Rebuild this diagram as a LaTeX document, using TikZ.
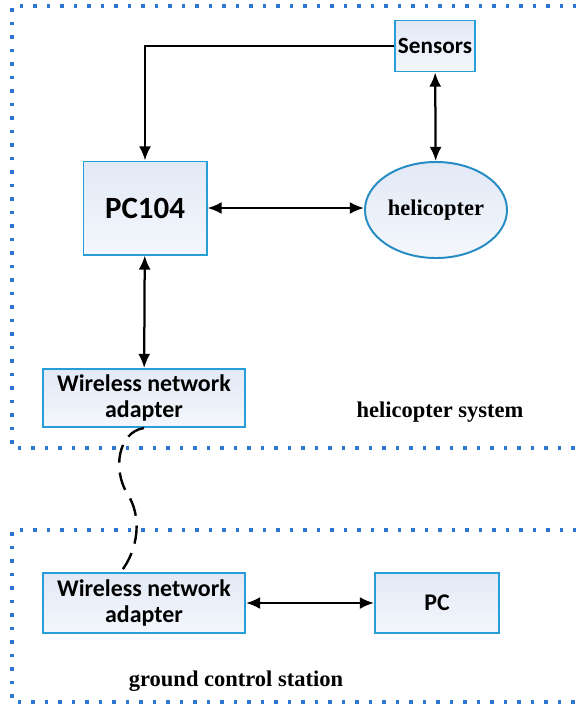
\documentclass[tikz,border=0pt]{standalone}
\usepackage{fontspec}
\setmainfont{Liberation Serif}
\newfontfamily\boxfont{Carlito}
\usetikzlibrary{positioning,shapes.geometric,arrows.meta}

\definecolor{boxline}{RGB}{40,158,216}
\definecolor{ellline}{RGB}{38,140,196}
\definecolor{dotline}{RGB}{44,120,208}
\definecolor{filltop}{RGB}{226,233,246}
\definecolor{fillbot}{RGB}{244,247,252}

\tikzset{
  block/.style={rectangle, draw=boxline, line width=1.4pt, top color=filltop, bottom color=fillbot,
    font=\boxfont\bfseries\fontsize{17}{19}\selectfont, align=center, inner sep=0pt},
  region/.style={draw=dotline, line width=2.2pt, dash pattern=on 2.2pt off 7.4pt},
  link/.style={line width=1.6pt, {Latex[length=10pt,width=8.5pt]}-{Latex[length=10pt,width=8.5pt]}},
  caption/.style={font=\bfseries\fontsize{16}{18}\selectfont}
}

\begin{document}
\begin{tikzpicture}[x=0.025cm, y=-0.025cm]
        \useasboundingbox (0,0) rectangle (575,711);

        % dotted regions
        \draw[region] (590,6) -- (12,6) -- (12,448) -- (590,448);
        \draw[region] (590,530) -- (12,530) -- (12,702) -- (590,702);

        % helicopter system
        \node[block, minimum width=2cm, minimum height=1.275cm,
              font=\boxfont\bfseries\fontsize{16.5}{18}\selectfont] (sensors) at (435, 46) {Sensors};
        \node[block, minimum width=3.075cm, minimum height=2.325cm,
              font=\boxfont\bfseries\fontsize{22}{24}\selectfont] (pcBoard) at (145, 208) {PC104};
        \node[ellipse, draw=ellline, line width=1.4pt, top color=filltop, bottom color=fillbot,
              minimum width=3.55cm, minimum height=2.4cm, inner sep=0pt, caption] (heli) at (436, 210) {helicopter};
        \node[block, minimum width=5.05cm, minimum height=1.45cm] (airAdapter) at (144, 398) {Wireless network\\adapter};
        \node[caption] (heliLabel) at (440, 412) {helicopter system};

        % ground control station
        \node[block, minimum width=5.05cm, minimum height=1.5cm] (groundAdapter) at (144, 603) {Wireless network\\adapter};
        \node[block, minimum width=3.1cm, minimum height=1.5cm] (pc) at (437, 603) {PC};
        \node[caption] (groundLabel) at (236, 681) {ground control station};

        \coordinate (linkEnd) at (120, 573);

        \draw[line width=1.6pt, -{Latex[length=10pt,width=8.5pt]}] (sensors.west) -| (pcBoard.north);
        \draw[link] (sensors) -- (heli);
        \draw[link] (pcBoard) -- (pcBoard -| heli.west);
        \draw[link] (pcBoard) -- (airAdapter);
        \draw[link] (groundAdapter) -- (pc);
        \draw[line width=1.7pt, dash pattern=on 13pt off 7pt]
              (airAdapter.south) .. controls (118,432) and (112,470) .. (128,495)
              .. controls (141,515) and (140,548) .. (linkEnd);
      \end{tikzpicture}
\end{document}
